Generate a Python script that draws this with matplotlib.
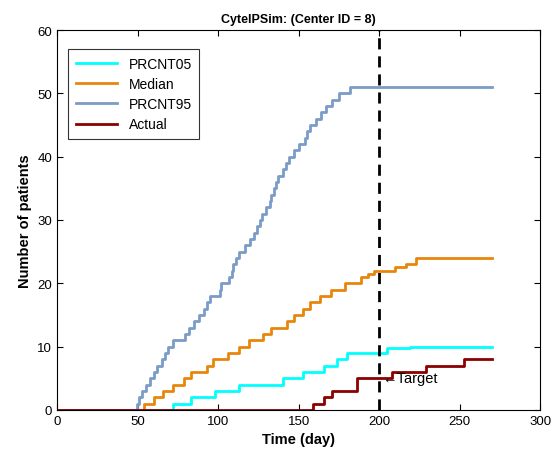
import matplotlib
matplotlib.use('Agg')
import matplotlib.pyplot as plt

plt.rcParams['font.family'] = ['Liberation Sans', 'DejaVu Sans']

# ======================
# Simulated enrollment (step curves)
# ======================
p05_days = [0, 72, 83, 98, 113, 140, 153, 166, 174, 180, 205, 219, 270]
p05_vals = [0, 1, 2, 3, 4, 5, 6, 7, 8, 9, 9.75, 10, 10]

med_days = [0, 54, 60, 66, 72, 79, 83, 93, 97, 106, 113, 119, 128, 133, 143,
            147, 153, 157, 163, 170, 179, 189, 193, 197, 210, 217, 223, 270]
med_vals = [0, 1, 2, 3, 4, 5, 6, 7, 8, 9, 10, 11, 12, 13, 14,
            15, 16, 17, 18, 19, 20, 21, 21.5, 22, 22.5, 23, 24, 24]

p95_days = [0, 49.5, 51, 53, 55, 58, 60, 62, 65, 67, 69, 72, 79.5, 82, 85,
            88, 91, 93, 95, 101, 102, 107, 108.5, 109.5, 111, 113, 117, 120,
            122, 124, 126, 127, 130, 132, 133, 135, 136, 137.5, 140, 142, 144,
            147, 150, 154, 155, 157, 161, 164, 167, 171, 175, 182, 270]
p95_vals = [0, 1, 2, 3, 4, 5, 6, 7, 8, 9, 10, 11, 12, 13, 14,
            15, 16, 17, 18, 19, 20, 21, 22, 23, 24, 25, 26, 27,
            28, 29, 30, 31, 32, 33, 34, 35, 36, 37, 38, 39, 40,
            41, 42, 43, 44, 45, 46, 47, 48, 49, 50, 51, 51]

act_days = [0, 159, 166, 171, 186, 208, 229, 253, 270]
act_vals = [0, 1, 2, 3, 5, 6, 7, 8, 8]

target_day = 200
target_count = 5

# ======================
# Plot
# ======================
fig = plt.figure(figsize=(5.54, 4.56), dpi=100)
ax = fig.add_axes([0.103, 0.099, 0.872, 0.833])

ax.step(p05_days, p05_vals, where='post', color='#00FFFF', lw=2, label='PRCNT05')
ax.step(med_days, med_vals, where='post', color='#E8860C', lw=2, label='Median')
ax.step(p95_days, p95_vals, where='post', color='#7A9CC6', lw=2, label='PRCNT95')
ax.step(act_days, act_vals, where='post', color='#8B0000', lw=2, label='Actual')

ax.plot([target_day, target_day], [0, 60], color='black', lw=2, ls=(0, (4, 2.5)))
ax.text(target_day + 1.5, target_count, '\u2190Target', fontsize=10.5,
        va='center', zorder=5)

ax.set_xlim(0, 300)
ax.set_ylim(0, 60)
ax.set_xticks(range(0, 301, 50))
ax.set_yticks(range(0, 61, 10))
ax.tick_params(direction='in', top=True, right=True, labelsize=9.5, length=4)

ax.set_title('CytelPSim: (Center ID = 8)', fontsize=9, fontweight='bold')
ax.set_xlabel('Time (day)', fontsize=10.5, fontweight='bold')
ax.set_ylabel('Number of patients', fontsize=10.5, fontweight='bold')

leg = ax.legend(loc='upper left', bbox_to_anchor=(0.023, 0.95), borderaxespad=0,
                fontsize=10, fancybox=False, edgecolor='black',
                handlelength=3.0, labelspacing=0.45, borderpad=0.55)
leg.get_frame().set_linewidth(0.8)

fig.savefig('out.png', dpi=100)
